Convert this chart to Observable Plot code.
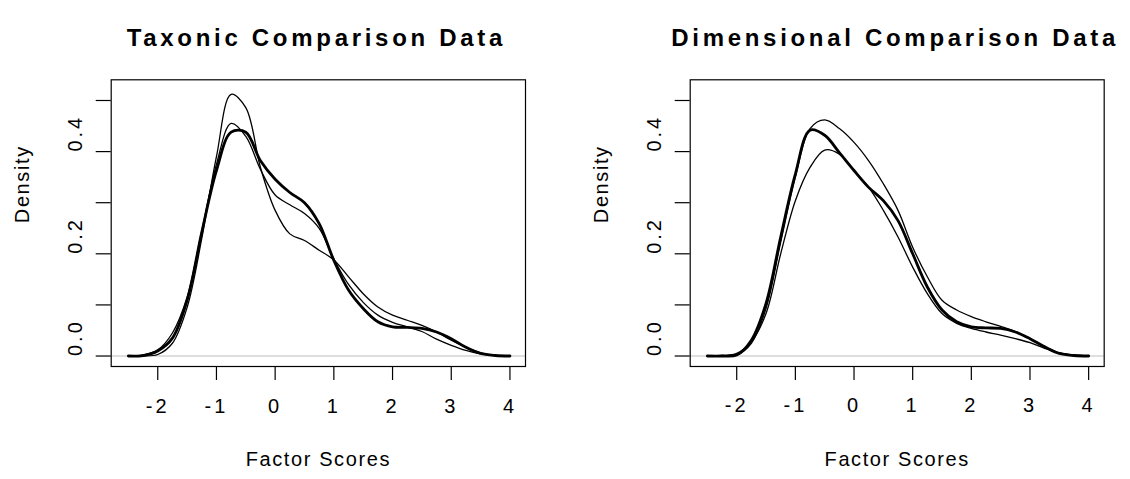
<!DOCTYPE html>
<html><head><meta charset="utf-8">
<script src="https://cdn.jsdelivr.net/npm/d3@7"></script>
<script src="https://cdn.jsdelivr.net/npm/@observablehq/plot@0.6"></script>
<style>
html,body{margin:0;padding:0;background:#fff;}
#wrap{position:relative;width:1130px;height:479px;overflow:hidden;background:#fff;}
#wrap svg{position:absolute;top:0;}
</style></head><body><div id="wrap"></div>
<script>
// Shared x grid (Factor Scores)
const xGrid = [-2.5,-2.25,-2,-1.75,-1.5,-1.25,-1,-0.75,-0.5,-0.25,0,0.25,0.5,0.75,1,1.25,1.5,1.75,2,2.25,2.5,2.75,3,3.25,3.5,3.75,4];

// Taxonic panel densities
const taxThick = [0,0.001,0.010,0.035,0.109,0.242,0.363,0.438,0.438,0.382,0.346,0.320,0.300,0.259,0.187,0.129,0.093,0.067,0.057,0.056,0.054,0.047,0.034,0.017,0.005,0.001,0];
const taxThinA = [0,0,0.003,0.025,0.095,0.230,0.390,0.512,0.486,0.369,0.285,0.239,0.226,0.207,0.188,0.155,0.122,0.096,0.080,0.070,0.060,0.047,0.031,0.017,0.006,0.001,0];
const taxThinB = [0,0.002,0.012,0.045,0.115,0.245,0.375,0.455,0.430,0.365,0.315,0.296,0.279,0.250,0.190,0.140,0.105,0.080,0.066,0.057,0.048,0.033,0.021,0.011,0.004,0.001,0];

// Dimensional panel densities
const dimThick = [0,0,0.002,0.031,0.103,0.233,0.356,0.442,0.432,0.398,0.363,0.330,0.304,0.265,0.200,0.135,0.090,0.067,0.057,0.055,0.054,0.047,0.034,0.018,0.005,0.001,0];
const dimThinA = [0,0,0.002,0.025,0.093,0.223,0.350,0.445,0.462,0.445,0.418,0.382,0.337,0.285,0.213,0.155,0.109,0.090,0.077,0.067,0.058,0.048,0.034,0.018,0.006,0.001,0];
const dimThinB = [0,0.001,0.005,0.028,0.083,0.200,0.304,0.369,0.403,0.395,0.363,0.330,0.285,0.233,0.174,0.122,0.083,0.064,0.054,0.047,0.041,0.034,0.026,0.015,0.006,0.002,0];

const xTicks = [-2,-1,0,1,2,3,4];
const yTicks = [0,0.1,0.2,0.3,0.4,0.5];
const yLabels = [0,0.2,0.4];
const titles = ["Taxonic Comparison Data","Dimensional Comparison Data"];
const xLabel = "Factor Scores";
const yLabel = "Density";

function series(name, ys){ return xGrid.map((x,i)=>({series:name, x, y: ys[i]})); }

function spacing(svg) {
  svg.querySelectorAll("text").forEach(t => {
    const s = t.textContent;
    if (!s) return;
    let ls = 3;
    if (titles.includes(s)) ls = 3.7;
    else if (s === xLabel || s === yLabel) ls = 1.6;
    t.setAttribute("letter-spacing", ls + "px");
    t.style.letterSpacing = ls + "px";
  });
  return svg;
}

function panel(title, thin1, thin2, thick, left, width, marginRight) {
  const thinData = [...series("a", thin1), ...series("b", thin2)];
  const thickData = series("thick", thick);
  return spacing(Plot.plot({
    width, height: 479,
    marginLeft: 110.7, marginRight, marginTop: 79.3, marginBottom: 113,
    style: {left: left + "px", fontFamily: "'Liberation Sans', Arial, Helvetica, sans-serif", background: "white", color: "black"},
    x: {domain: [-2.793, 4.265], label: null},
    y: {domain: [-0.0205, 0.5405], label: null},
    marks: [
      Plot.ruleY([0], {stroke: "#bebebe", strokeWidth: 1.2}),
      Plot.line(thinData, {x: "x", y: "y", z: "series", stroke: "black", strokeWidth: 1.3, curve: "catmull-rom"}),
      Plot.line(thickData, {x: "x", y: "y", stroke: "black", strokeWidth: 2.8, curve: "catmull-rom"}),
      Plot.frame({stroke: "black", strokeWidth: 1.2}),
      Plot.axisX({ticks: xTicks, tickSize: 14, tickFormat: () => "", label: null, strokeWidth: 1.2}),
      Plot.axisY({ticks: yTicks, tickSize: 15, tickFormat: () => "", label: null, strokeWidth: 1.2}),
      Plot.text(xTicks, {x: d => d, text: d => d < 0 ? "-" + (-d) : String(d), frameAnchor: "bottom", dy: 46, fontSize: 20}),
      Plot.text(yLabels, {y: d => d, text: d => d.toFixed(1), frameAnchor: "left", dx: -36, rotate: -90, fontSize: 20}),
      Plot.text([title], {text: d => d, frameAnchor: "top", dy: -51.3, dx: -2, fontSize: 24, fontWeight: "bold"}),
      Plot.text([xLabel], {text: d => d, frameAnchor: "bottom", dy: 99.5, fontSize: 20}),
      Plot.text([yLabel], {text: d => d, frameAnchor: "left", dx: -89, rotate: -90, fontSize: 20})
    ]
  }));
}

const wrap = document.getElementById("wrap");
wrap.appendChild(panel(titles[0], taxThinA, taxThinB, taxThick, 0, 565, 40));
wrap.appendChild(panel(titles[1], dimThinA, dimThinB, dimThick, 578.6, 551.4, 26.7));
</script></body></html>
